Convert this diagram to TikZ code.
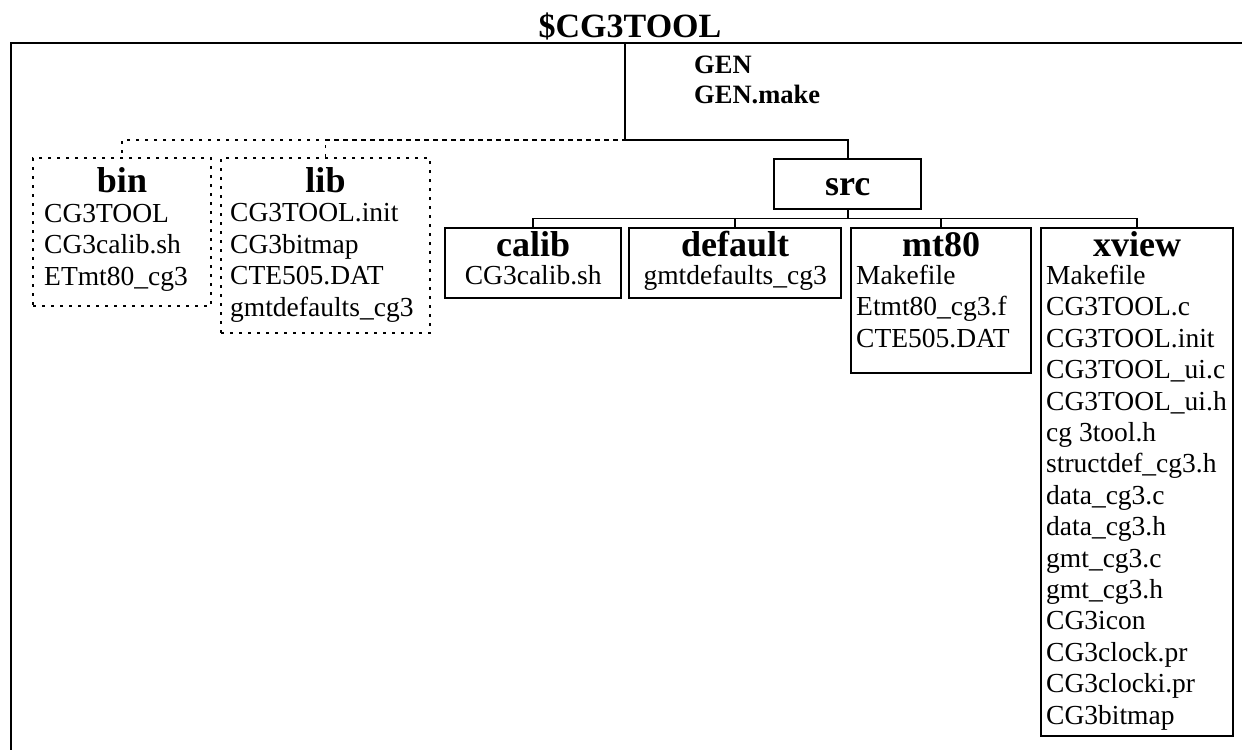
\documentclass[tikz,border=0pt]{standalone}
\usepackage{fontspec}
\setmainfont{Liberation Serif}
\usetikzlibrary{calc}

\begin{document}
\begin{tikzpicture}[x=1pt,y=-1pt,
  tree/.style={line width=1.8pt},
  dotline/.style={line width=1.8pt,dash pattern=on 3pt off 6pt},
  dirbox/.style 2 args={draw,line width=2.4pt,inner sep=0pt,anchor=north west,minimum width=#1,minimum height=#2},
  dotbox/.style 2 args={dirbox={#1}{#2},line width=2pt,dash pattern=on 3pt off 6pt},
  dirhead/.style={font=\bfseries\fontsize{36}{40}\selectfont,inner sep=0pt,anchor=base},
  filelist/.style={font=\fontsize{27.5}{31.4}\selectfont,align=left,inner sep=0pt,anchor=base west}]
  \useasboundingbox (0,0) rectangle (1242,750);

  % frame and title
  \draw[line width=2pt] (1242,43) -- (11,43) -- (11,750);
  \node[font=\bfseries\fontsize{34}{40}\selectfont,inner sep=0pt,anchor=base] (title) at (630,37) {\$CG3TOOL};
  % multi-line nodes sit on their last line
  \node[font=\bfseries\fontsize{26.5}{30}\selectfont,align=left,inner sep=0pt,anchor=base west] (gen) at (694,103) {GEN\\GEN.make};

  % directories
  \node[dotbox={178pt}{148pt}] (bin) at (32,157) {};
  \node[dotbox={209pt}{175pt}] (lib) at (220,157) {};
  \node[dirbox={147pt}{50pt}] (src) at (773,158) {};
  \node[dirbox={176pt}{70pt}] (calib) at (444,227) {};
  \node[dirbox={212pt}{70pt}] (default) at (628,227) {};
  \node[dirbox={180pt}{145pt}] (mt80) at (850,227) {};
  \node[dirbox={192pt}{508pt}] (xview) at (1040,227) {};

  % headings
  \node[dirhead] (binhead) at ($(bin.north)+(0,35)$) {bin};
  \node[dirhead] (libhead) at ($(lib.north)+(0,35)$) {lib};
  \node[dirhead] (srchead) at ($(src.north)+(0,37)$) {src};
  \foreach \d in {calib,default,mt80,xview}
    \node[dirhead] (\d head) at ($(\d.north)+(0,29)$) {\d};

  % files
  \node[filelist] (binfiles) at (44,285) {CG3TOOL\\CG3calib.sh\\ETmt80\_cg3};
  \node[filelist] (libfiles) at (230,316) {CG3TOOL.init\\CG3bitmap\\CTE505.DAT\\gmtdefaults\_cg3};
  \node[filelist,anchor=base] (calibfiles) at ($(calib.north)+(0,57)$) {CG3calib.sh};
  \node[filelist,anchor=base] (defaultfiles) at ($(default.north)+(0,57)$) {gmtdefaults\_cg3};
  \node[filelist] (mt80files) at (856,347) {Makefile\\Etmt80\_cg3.f\\CTE505.DAT};
  \node[filelist] (xviewfiles) at (1046,724) {Makefile\\CG3TOOL.c\\CG3TOOL.init\\CG3TOOL\_ui.c\\CG3TOOL\_ui.h\\cg 3tool.h\\structdef\_cg3.h\\data\_cg3.c\\data\_cg3.h\\gmt\_cg3.c\\gmt\_cg3.h\\CG3icon\\CG3clock.pr\\CG3clocki.pr\\CG3bitmap};

  % tree
  \coordinate (root) at (625,43);
  \coordinate (fork) at (625,140);
  \draw[tree] (root) -- (fork) -| (src.north);
  \draw[dotline] (fork) -| (bin.north);
  \draw[dotline] (lib.north) |- (fork);
  \foreach \d in {calib,default,mt80,xview}
    \draw[tree] (src.south) -- ++(0,8) -| (\d.north);
\end{tikzpicture}
\end{document}
